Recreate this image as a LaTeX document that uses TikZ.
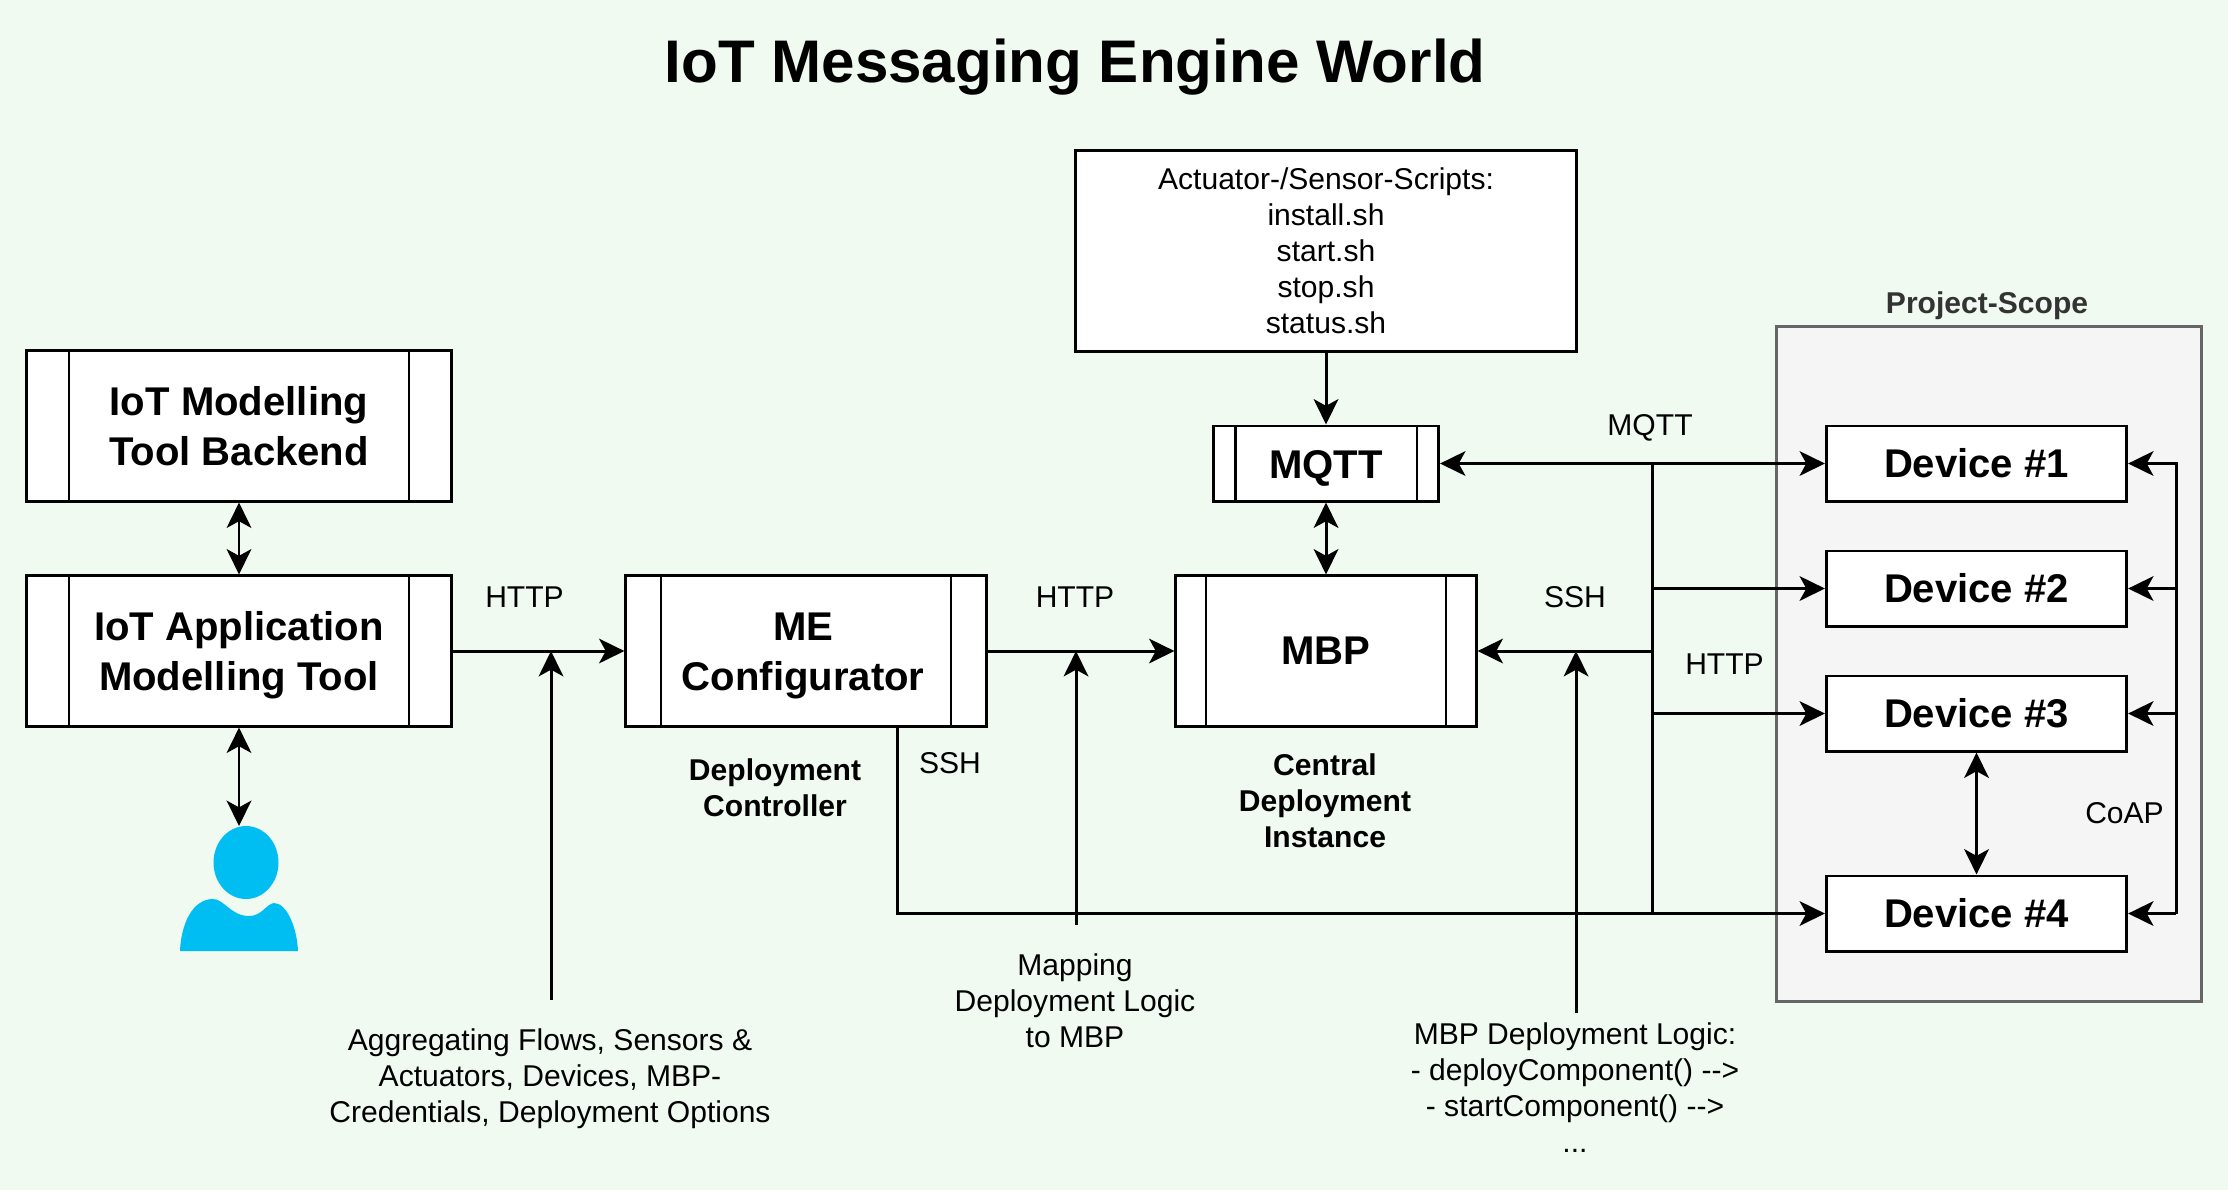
\documentclass[tikz,border=0pt]{standalone}
\usepackage{fontspec}
\setmainfont{Liberation Sans}
\usetikzlibrary{arrows.meta}
\definecolor{bggreen}{HTML}{F0FAF0}
\definecolor{scopefill}{HTML}{F5F5F5}
\definecolor{scopeline}{HTML}{666666}
\definecolor{scopetext}{HTML}{333333}
\definecolor{userblue}{HTML}{00BEF2}
\newcommand{\lowline}{\rule{0pt}{10.5pt}}
\begin{document}
\begin{tikzpicture}[x=0.01cm,y=-0.01cm,line width=0.85pt,
    >={Stealth[length=7.2pt,width=7pt,inset=1.9pt]},
    plain/.style={font=\fontsize{8.55}{10.25}\selectfont,align=center,inner sep=0pt},
    side/.style={plain,font=\fontsize{8.55}{10.25}\bfseries\selectfont},
    bigbox/.style={draw,fill=white,inner sep=0pt,align=center,font=\fontsize{11.4}{14.2}\bfseries\selectfont},
    devbox/.style={bigbox,minimum width=3cm,minimum height=0.75cm},
    procbox/.style args={#1/#2/#3}{bigbox,minimum width=#1,minimum height=#2,
      path picture={
        \draw[line width=0.6pt] ([xshift=#3]path picture bounding box.north west)--([xshift=#3]path picture bounding box.south west);
        \draw[line width=0.6pt] ([xshift=-#3]path picture bounding box.north east)--([xshift=-#3]path picture bounding box.south east);
      }}]
  % background
  \fill[bggreen] (0,0) rectangle (2228,1190);
  \node[font=\fontsize{17.1}{20}\bfseries\selectfont] (title) at (1075,67) {IoT Messaging Engine World};
  % project scope
  \draw[scopeline,fill=scopefill] (1776,326) rectangle (2201,1001);
  \node[side,text=scopetext] (scopelabel) at (1987,306) {Project-Scope};
  % tools on the left
  \node[procbox=4.255cm/1.5cm/0.43cm] (backend) at (239,426) {IoT Modelling\\Tool Backend};
  \node[procbox=4.255cm/1.5cm/0.43cm] (modeller) at (239,651) {\lowline IoT Application\\Modelling Tool};
  \node[procbox=3.6cm/1.5cm/0.35cm] (config) at (806,651) {\lowline ME\kern1.6pt\\Configurator\kern1.6pt};
  \node[procbox=3cm/1.5cm/0.3cm] (mbp) at (1326,651) {MBP};
  \node[procbox=2.25cm/0.75cm/0.22cm] (mqtt) at (1326,463.5) {\lowline MQTT};
  \node[draw,fill=white,minimum width=5cm,minimum height=2cm,plain,inner sep=0pt] (scripts) at (1326,251)
    {Actuator-/Sensor-Scripts:\\install.sh\\start.sh\\stop.sh\\status.sh};
  % devices
  \node[devbox] (dev1) at (1976.5,463.5) {Device \#1};
  \node[devbox] (dev2) at (1976.5,588.5) {Device \#2};
  \node[devbox] (dev3) at (1976.5,713.5) {Device \#3};
  \node[devbox] (dev4) at (1976.5,913.5) {Device \#4};
  % user
  \fill[userblue] (246,862.5) ellipse (32.5 and 36.5);
  \fill[userblue] (180,951) .. controls (181,925) and (192,899) .. (213,899)
    .. controls (224,899) and (231,916) .. (249,916)
    .. controls (262,916) and (266,904) .. (274,903)
    .. controls (287,903) and (297,928) .. (298,951) -- cycle;
  \coordinate (usertop) at (239,826);
  % text beside the boxes
  \node[plain] (http1) at (524.5,597) {HTTP};
  \node[plain] (http2) at (1075,597) {HTTP};
  \node[plain] (ssh1) at (950,763) {SSH};
  \node[plain] (ssh2) at (1575,597) {SSH};
  \node[plain] (mqttlabel) at (1650,428) {MQTT};
  \node[plain] (http3) at (1724.5,664) {HTTP};
  \node[plain] (coap) at (2124.5,813) {CoAP};
  \node[side] (controller) at (775,788) {Deployment\\Controller};
  \node[side] (central) at (1325,801) {Central\\Deployment\\Instance};
  \node[plain] (aggnote) at (550,1078.5) {Aggregating Flows, Sensors \&\\Actuators, Devices, MBP-\\Credentials, Deployment Options};
  \node[plain] (mapnote) at (1075,1001) {Mapping\\Deployment Logic\\to MBP};
  \node[plain] (logicnote) at (1575,1088) {MBP Deployment Logic:\\- deployComponent() -{}->\\- startComponent() -{}->\\...};
  % free ends
  \coordinate (aggtail) at (551,1000);
  \coordinate (agghead) at (551,651);
  \coordinate (maptail) at (1076,925);
  \coordinate (maphead) at (1076,651);
  \coordinate (logictail) at (1576,1013);
  \coordinate (logichead) at (1576,651);
  \coordinate (bus) at (1652,463.5);
  \coordinate (coapbus) at (2176,463.5);
  \coordinate (sshcorner) at (897,913.5);
  % connectors
  \draw[<->] (backend.south)--(modeller.north);
  \draw[<->] (modeller.south)--(usertop);
  \draw[->] (modeller.east)--(config.west);
  \draw[->] (config.east)--(mbp.west);
  \draw[->] (scripts.south)--(mqtt.north);
  \draw[<->] (mqtt.south)--(mbp.north);
  \draw[<->] (mqtt.east)--(dev1.west);
  \draw[->] (aggtail)--(agghead);
  \draw[->] (maptail)--(maphead);
  \draw[->] (logictail)--(logichead);
  % ssh line and the bus to the devices
  \draw[->] (config.south -| sshcorner)--(sshcorner)--(dev4.west);
  \draw (bus)--(bus |- dev4.west);
  \draw[->] (bus |- dev2.west)--(dev2.west);
  \draw[->] (bus |- dev3.west)--(dev3.west);
  \draw[->] (bus |- mbp.east)--(mbp.east);
  % coap
  \draw[->] (dev4.east -| coapbus)--(coapbus)--(dev1.east);
  \draw[->] (coapbus |- dev2.east)--(dev2.east);
  \draw[->] (coapbus |- dev3.east)--(dev3.east);
  \draw[->] (coapbus |- dev4.east)--(dev4.east);
  \draw[<->] (dev3.south)--(dev4.north);
\end{tikzpicture}
\end{document}
